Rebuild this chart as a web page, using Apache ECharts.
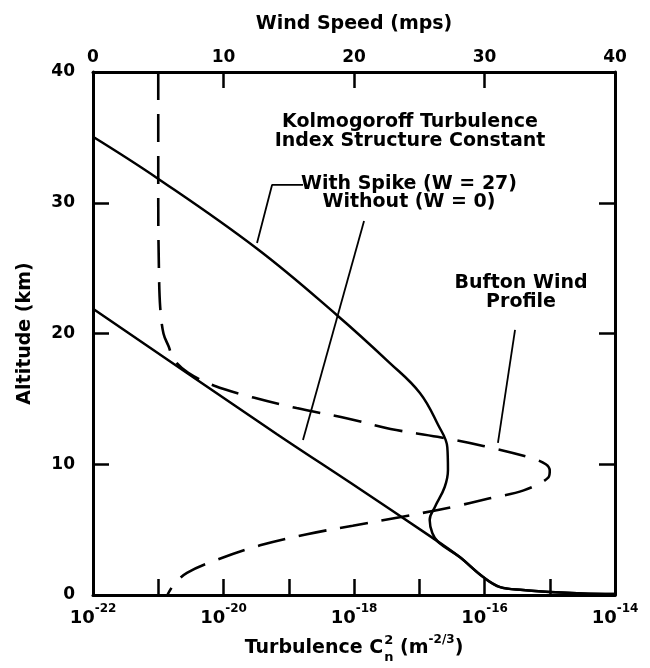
<!DOCTYPE html>
<html><head><meta charset="utf-8">
<script src="https://cdn.jsdelivr.net/npm/echarts/dist/echarts.min.js"></script>
<style>html,body{margin:0;padding:0;background:#fff}#c{width:650px;height:668px}</style>
</head><body><div id="c"></div>
<script>
// ---- Data ----
// Turbulence Cn^2, exponent (log10) vs altitude (km)
const withSpikeLogCn2 = [-22.0, -21.02, -19.49, -18.26, -17.45, -16.99, -16.71, -16.57, -16.56, -16.61, -16.76, -16.84, -16.80, -16.71, -16.38, -16.02, -15.76, -15.41, -15.0, -14.5, -14.0];
const withSpikeAlt     = [35.05, 31.9, 26.5, 21.4, 17.74, 15.45, 13.0, 11.3, 9.56, 8.26, 6.73, 5.74, 4.74, 4.05, 2.9, 1.37, 0.6, 0.38, 0.23, 0.12, 0.08];
const withoutLogCn2 = [-22.0, -19.18, -18.06, -16.79, -16.38, -16.02, -15.76, -15.41, -15.0, -14.5, -14.0];
const withoutAlt     = [21.9, 12.3, 8.6, 4.35, 2.9, 1.37, 0.6, 0.38, 0.23, 0.12, 0.08];
// Bufton wind profile: wind speed (mps) vs altitude (km)
const buftonWind = [5.0, 5.0, 5.05, 5.15, 5.4, 5.8, 6.2, 7.3, 9.3, 12.3, 15.6, 19.5, 22.8, 26.4, 29.9, 33.5, 34.7, 35.0, 34.9, 33.0, 30.4, 27.4, 23.5, 19.9, 16.4, 12.8, 9.5, 7.2, 6.2, 5.7];
const buftonAlt  = [40, 30, 25, 22, 20, 19, 18, 17, 16, 15.1, 14.3, 13.5, 12.7, 12.1, 11.4, 10.5, 10.0, 9.5, 9.0, 8.0, 7.4, 6.7, 5.95, 5.3, 4.65, 3.8, 2.7, 1.7, 0.8, 0.0];
// Annotation leader lines (wind-speed / altitude coordinates)
const leaderSpikeWind = [16.09, 13.72, 12.57];
const leaderSpikeAlt  = [31.36, 31.36, 26.92];
const leaderWithoutWind = [20.77, 16.09];
const leaderWithoutAlt  = [28.6, 11.85];
const leaderBuftonWind = [32.34, 31.03];
const leaderBuftonAlt  = [20.27, 11.63];
// Axis ticks
const windTicks = [0, 10, 20, 30, 40];
const altTicks = [0, 10, 20, 30, 40];
const cn2TickExps  = [-22, -21, -20, -19, -18, -17, -16, -15, -14];
const cn2LabelExps = [-22, -20, -18, -16, -14];

// ---- Build ----
const F = '"DejaVu Sans", sans-serif';
const zip = (a, b) => a.map((v, i) => [v, b[i]]);
const zipLog = (a, b) => a.map((v, i) => [Math.pow(10, v), b[i]]);
const p10 = e => Math.pow(10, e);

const chart = echarts.init(document.getElementById('c'), null, {renderer: 'canvas'});

const axisLine = {show: true, onZero: false, lineStyle: {color: '#000', width: 3}};
const axisTick = {show: true, inside: true, length: 16, lineStyle: {color: '#000', width: 2.5}};

const cv = document.createElement('canvas').getContext('2d');
function mw(s, size) { cv.font = 'bold ' + size + 'px "DejaVu Sans"'; return cv.measureText(s).width; }
function T(x, y, s, size, align) {
  return {type: 'text', x: x, y: y, silent: true,
    style: {text: s, font: 'bold ' + size + 'px ' + F, fill: '#000',
      align: align || 'center', verticalAlign: 'middle', textAlign: align || 'center', textVerticalAlign: 'middle'}};
}
const titleY = 648, cx = 354;
const wA = mw('Turbulence C', 19), wS = Math.max(mw('2', 13), mw('n', 13)), wB = mw(' (m', 19), wE = mw('-2/3', 12), wC = mw(')', 19);
const total = wA + 1 + wS + wB + wE + wC;
let x0 = cx - total / 2;
const graphics = [
  T(x0, titleY, 'Turbulence C', 19, 'left'),
  T(x0 + wA + 1, titleY - 7, '2', 13, 'left'),
  T(x0 + wA + 1, titleY + 10, 'n', 13, 'left'),
  T(x0 + wA + 1 + wS, titleY, ' (m', 19, 'left'),
  T(x0 + wA + 1 + wS + wB, titleY - 8, '-2/3', 12, 'left'),
  T(x0 + wA + 1 + wS + wB + wE, titleY, ')', 19, 'left'),
  T(410, 122, 'Kolmogoroff Turbulence', 19),
  T(410, 141, 'Index Structure Constant', 19),
  T(409, 184, 'With Spike (W = 27)', 19),
  T(409, 202, 'Without (W = 0)', 19),
  T(521, 283, 'Bufton Wind', 19),
  T(521, 302, 'Profile', 19)
];

const option = {
  animation: false,
  backgroundColor: '#fff',
  grid: {left: 93, right: 35, top: 72, bottom: 73, containLabel: false, outerBoundsMode: 'none'},
  xAxis: [
    {type: 'log', logBase: 10, position: 'bottom', min: p10(cn2TickExps[0]), max: p10(cn2TickExps[cn2TickExps.length - 1]),
      axisLine: axisLine,
      axisTick: Object.assign({}, axisTick, {customValues: cn2TickExps.map(p10)}),
      splitLine: {show: false}, minorTick: {show: false},
      axisLabel: {margin: 8, color: '#000', showMinLabel: true, showMaxLabel: true, hideOverlap: false,
        customValues: cn2LabelExps.map(p10),
        formatter: function (v) {
          const e = Math.round(Math.log10(v));
          return '{b|10}{e|' + e + '}';
        },
        rich: {b: {fontSize: 18, fontWeight: 'bold', fontFamily: F, color: '#000', lineHeight: 24, verticalAlign: 'bottom'},
               e: {fontSize: 12, fontWeight: 'bold', fontFamily: F, color: '#000', lineHeight: 24, verticalAlign: 'top'}}
      }},
    {type: 'value', position: 'top', min: windTicks[0], max: windTicks[windTicks.length - 1], interval: 10,
      name: 'Wind Speed (mps)', nameLocation: 'middle', nameGap: 38,
      nameTextStyle: {fontSize: 19, fontWeight: 'bold', fontFamily: F, color: '#000'},
      axisLine: axisLine, axisTick: axisTick, splitLine: {show: false},
      axisLabel: {margin: 6, fontSize: 17, fontWeight: 'bold', fontFamily: F, color: '#000'}}
  ],
  yAxis: [
    {type: 'value', position: 'left', min: altTicks[0], max: altTicks[altTicks.length - 1], interval: 10,
      name: 'Altitude (km)', nameLocation: 'middle', nameGap: 58, nameRotate: 90,
      nameTextStyle: {fontSize: 19, fontWeight: 'bold', fontFamily: F, color: '#000'},
      axisLine: axisLine, axisTick: axisTick, splitLine: {show: false},
      axisLabel: {margin: 18, fontSize: 17, fontWeight: 'bold', fontFamily: F, color: '#000'}},
    {type: 'value', position: 'right', min: altTicks[0], max: altTicks[altTicks.length - 1], interval: 10,
      axisLine: axisLine, axisTick: axisTick, splitLine: {show: false}, axisLabel: {show: false}}
  ],
  series: [
    {name: 'With Spike (W = 27)', type: 'line', xAxisIndex: 0, yAxisIndex: 0, data: zipLog(withSpikeLogCn2, withSpikeAlt),
      smooth: 0.4, showSymbol: false, lineStyle: {color: '#000', width: 2.5}, z: 3},
    {name: 'Without (W = 0)', type: 'line', xAxisIndex: 0, yAxisIndex: 0, data: zipLog(withoutLogCn2, withoutAlt),
      smooth: 0.3, showSymbol: false, lineStyle: {color: '#000', width: 2.5}, z: 3},
    {name: 'Bufton Wind Profile', type: 'line', xAxisIndex: 1, yAxisIndex: 0, data: zip(buftonWind, buftonAlt),
      smooth: 0.35, showSymbol: false, lineStyle: {color: '#000', width: 2.6, type: [28, 14]}, z: 3},
    {type: 'line', xAxisIndex: 1, yAxisIndex: 0, data: zip(leaderSpikeWind, leaderSpikeAlt), showSymbol: false,
      lineStyle: {color: '#000', width: 1.8}, silent: true},
    {type: 'line', xAxisIndex: 1, yAxisIndex: 0, data: zip(leaderWithoutWind, leaderWithoutAlt), showSymbol: false,
      lineStyle: {color: '#000', width: 1.8}, silent: true},
    {type: 'line', xAxisIndex: 1, yAxisIndex: 0, data: zip(leaderBuftonWind, leaderBuftonAlt), showSymbol: false,
      lineStyle: {color: '#000', width: 1.8}, silent: true}
  ],
  graphic: graphics
};
chart.setOption(option);
</script>
</body></html>
